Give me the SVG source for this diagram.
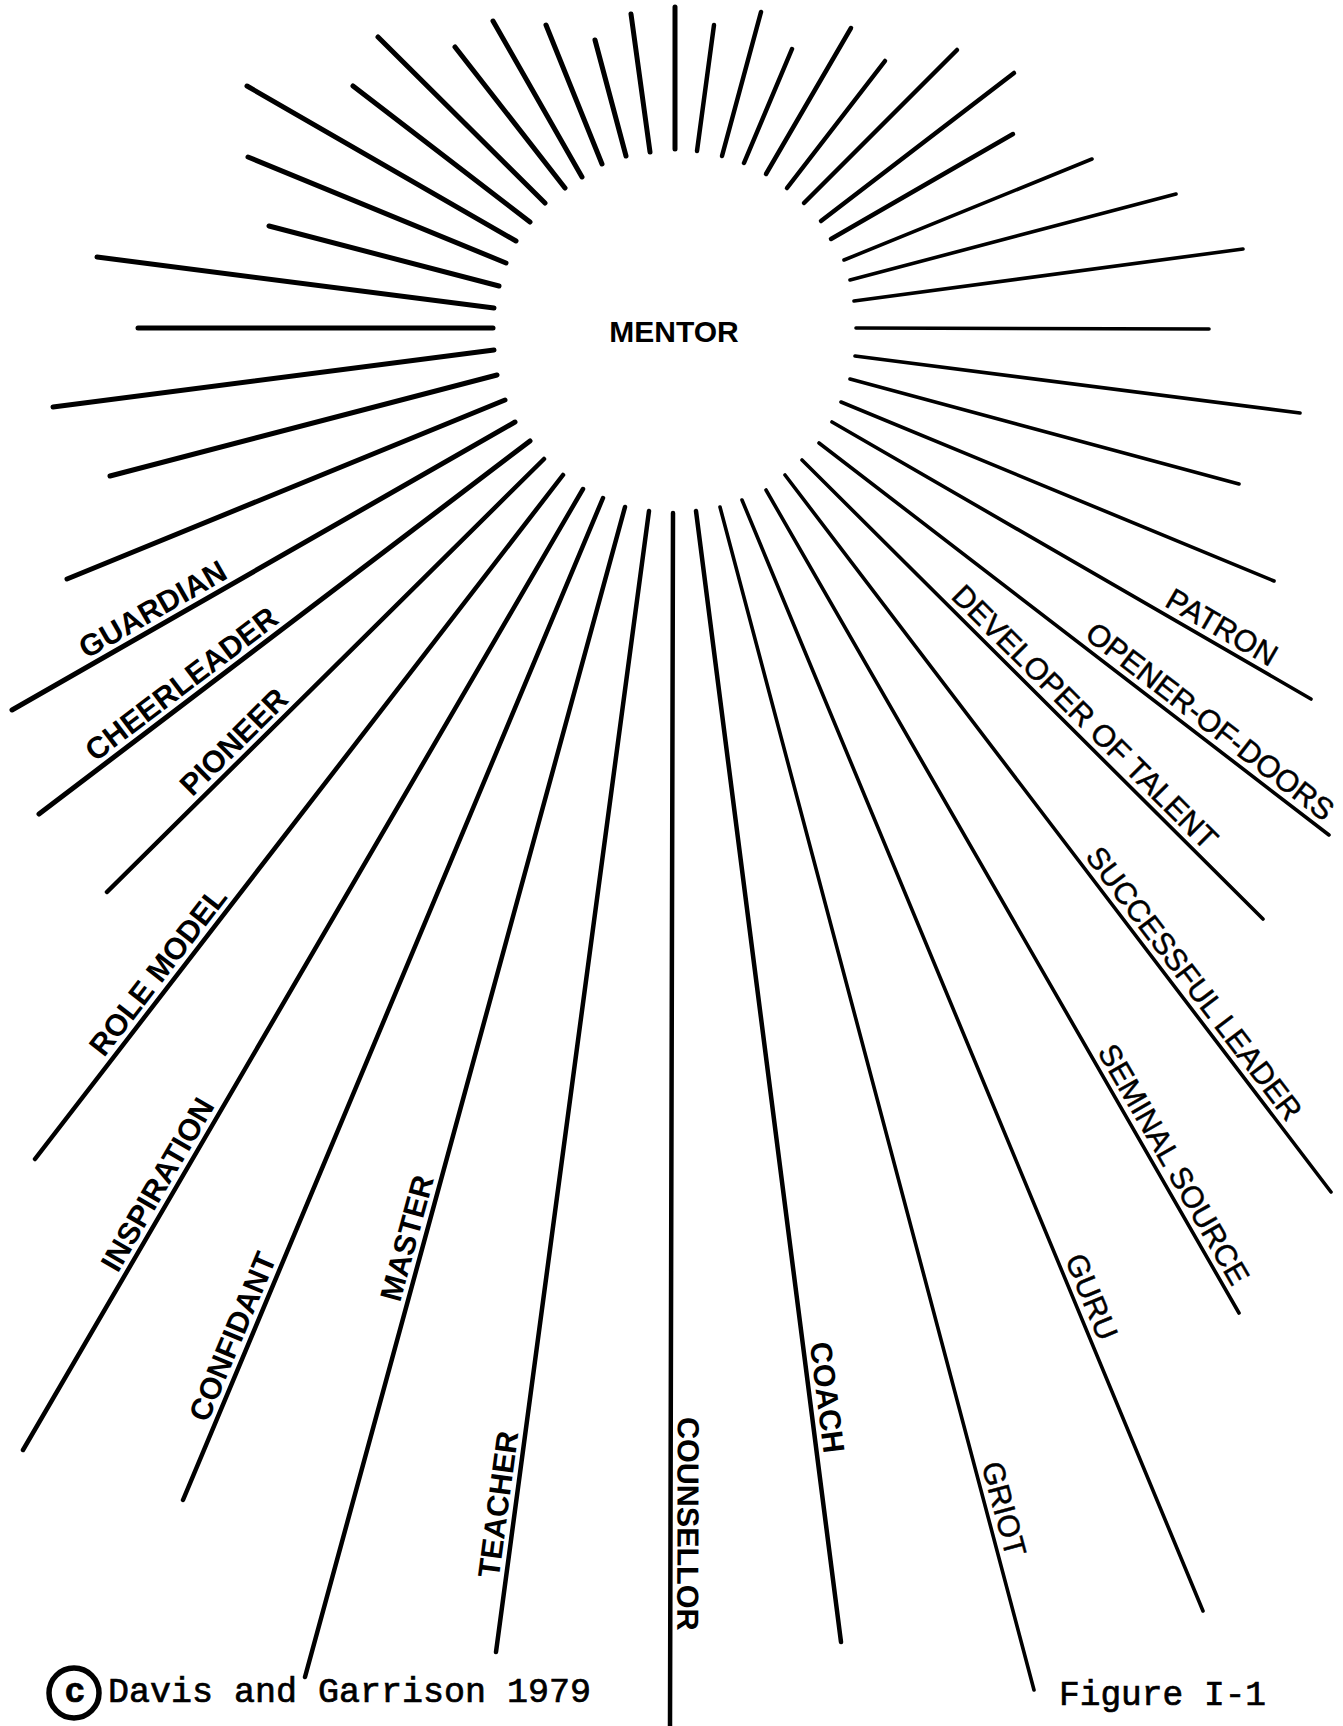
<svg xmlns="http://www.w3.org/2000/svg" width="1343" height="1726" viewBox="0 0 1343 1726">
<style>
  .bg{fill:#ffffff}
  line{stroke:#000;stroke-linecap:round;fill:none}
  .a{stroke-width:5}
  .b{stroke-width:4.5}
  .c{stroke-width:3.6}
  text{fill:#000}
  .lb{font-family:"Liberation Sans",Arial,sans-serif;font-size:30.5px;font-weight:bold}
  .lr{font-family:"Liberation Sans",Arial,sans-serif;font-size:30.5px;font-weight:normal;stroke:#000;stroke-width:0.5}
  .hub{font-family:"Liberation Sans",Arial,sans-serif;font-size:30px;font-weight:bold}
  .mono{font-family:"Liberation Mono","Courier New",monospace;font-size:35px;stroke:#000;stroke-width:0.7}
</style>
<rect class="bg" x="0" y="0" width="1343" height="1726"/>
<g id="rays">
  <line class="a" x1="493" y1="328" x2="138" y2="328"/>
  <line class="a" x1="494" y1="308" x2="97" y2="257"/>
  <line class="a" x1="499" y1="286" x2="269" y2="226"/>
  <line class="a" x1="506" y1="263" x2="248" y2="157"/>
  <line class="a" x1="516" y1="241" x2="247" y2="86"/>
  <line class="a" x1="530" y1="222" x2="353" y2="86"/>
  <line class="a" x1="545" y1="203" x2="378" y2="37"/>
  <line class="a" x1="565" y1="188" x2="455" y2="47"/>
  <line class="a" x1="582" y1="177" x2="493" y2="21"/>
  <line class="a" x1="602" y1="164" x2="546" y2="25"/>
  <line class="a" x1="626" y1="156" x2="595" y2="40"/>
  <line class="a" x1="650" y1="152" x2="631" y2="14"/>
  <line class="a" x1="675" y1="149" x2="675" y2="7"/>
  <line class="b" x1="697" y1="151" x2="714" y2="25"/>
  <line class="b" x1="722" y1="156" x2="761" y2="12"/>
  <line class="b" x1="744" y1="163" x2="792" y2="49"/>
  <line class="b" x1="766" y1="174" x2="851" y2="28"/>
  <line class="b" x1="787" y1="188" x2="885" y2="61"/>
  <line class="b" x1="804" y1="203" x2="957" y2="50"/>
  <line class="b" x1="821" y1="221" x2="1014" y2="73"/>
  <line class="b" x1="831" y1="239" x2="1013" y2="134"/>
  <line class="c" x1="844" y1="260" x2="1092" y2="159"/>
  <line class="c" x1="850" y1="280" x2="1176" y2="194"/>
  <line class="c" x1="854" y1="301" x2="1243" y2="249"/>
  <line class="c" x1="856" y1="328" x2="1209" y2="329"/>
  <line class="c" x1="855" y1="356" x2="1300" y2="413"/>
  <line class="c" x1="850" y1="379" x2="1239" y2="484"/>
  <line class="c" x1="841" y1="402" x2="1274" y2="581"/>
  <line class="c" x1="832" y1="422" x2="1311" y2="699"/>
  <line class="c" x1="819" y1="443" x2="1329" y2="835"/>
  <line class="c" x1="802" y1="460" x2="1263" y2="919"/>
  <line class="c" x1="785" y1="475" x2="1331" y2="1192"/>
  <line class="c" x1="766" y1="490" x2="1239" y2="1313"/>
  <line class="c" x1="742" y1="500" x2="1203" y2="1611"/>
  <line class="c" x1="720" y1="507" x2="1034" y2="1690"/>
  <line class="b" x1="696" y1="511" x2="841" y2="1642"/>
  <line class="b" x1="673" y1="513" x2="670" y2="1726"/>
  <line class="b" x1="649" y1="511" x2="496" y2="1652"/>
  <line class="b" x1="625" y1="507" x2="305" y2="1677"/>
  <line class="b" x1="603" y1="498" x2="183" y2="1500"/>
  <line class="b" x1="583" y1="489" x2="23" y2="1450"/>
  <line class="b" x1="563" y1="475" x2="35" y2="1159"/>
  <line class="b" x1="544" y1="459" x2="107" y2="892"/>
  <line class="a" x1="530" y1="441" x2="39" y2="814"/>
  <line class="a" x1="515" y1="422" x2="12" y2="710"/>
  <line class="a" x1="505" y1="400" x2="67" y2="579"/>
  <line class="a" x1="497" y1="375" x2="110" y2="476"/>
  <line class="a" x1="494" y1="350" x2="53" y2="407"/>
</g>
<g id="mentor"><text class="hub" x="674" y="342" text-anchor="middle">MENTOR</text></g>
<g id="guardian"><text class="lb" transform="translate(86.6,659.2) rotate(-29.8)">GUARDIAN</text></g>
<g id="cheerleader"><text class="lb" transform="translate(95.3,762.4) rotate(-37.2)">CHEERLEADER</text></g>
<g id="pioneer"><text class="lb" transform="translate(192.3,797.6) rotate(-44.7)">PIONEER</text></g>
<g id="role-model"><text class="lb" transform="translate(104,1058.1) rotate(-52.3)">ROLE MODEL</text></g>
<g id="inspiration"><text class="lb" transform="translate(117.7,1273.7) rotate(-59.8)">INSPIRATION</text></g>
<g id="confidant"><text class="lb" transform="translate(207.4,1423.5) rotate(-67.25)">CONFIDANT</text></g>
<g id="master"><text class="lb" transform="translate(400,1302.9) rotate(-74.7)">MASTER</text></g>
<g id="teacher"><text class="lb" transform="translate(498.8,1578.7) rotate(-82.4)">TEACHER</text></g>
<g id="counsellor"><text class="lb" transform="translate(677.7,1417) rotate(90.14)">COUNSELLOR</text></g>
<g id="coach"><text class="lb" transform="translate(809.7,1343.3) rotate(82.7)">COACH</text></g>
<g id="griot"><text class="lr" transform="translate(981.5,1464.9) rotate(75.13)">GRIOT</text></g>
<g id="guru"><text class="lr" transform="translate(1064.7,1259.3) rotate(67.47)">GURU</text></g>
<g id="seminal-source"><text class="lr" transform="translate(1097,1051.8) rotate(60.1)">SEMINAL SOURCE</text></g>
<g id="successful-leader"><text class="lr" transform="translate(1084.5,856.7) rotate(52.7)">SUCCESSFUL LEADER</text></g>
<g id="developer-of-talent"><text class="lr" transform="translate(950.1,597.5) rotate(44.88)">DEVELOPER OF TALENT</text></g>
<g id="opener-of-doors"><text class="lr" transform="translate(1083.4,637.3) rotate(37.55)">OPENER-OF-DOORS</text></g>
<g id="patron"><text class="lr" transform="translate(1163.6,605.6) rotate(30.05)">PATRON</text></g>
<g id="copyright">
  <circle cx="74" cy="1693" r="25" fill="none" stroke="#000" stroke-width="5.5"/>
  <text class="mono" x="75" y="1702" text-anchor="middle" font-weight="bold">c</text>
  <text class="mono" x="108" y="1702">Davis and Garrison 1979</text>
</g>
<g id="figure-label"><text class="mono" x="1059" y="1705" style="font-size:34.5px">Figure I-1</text></g>
</svg>
